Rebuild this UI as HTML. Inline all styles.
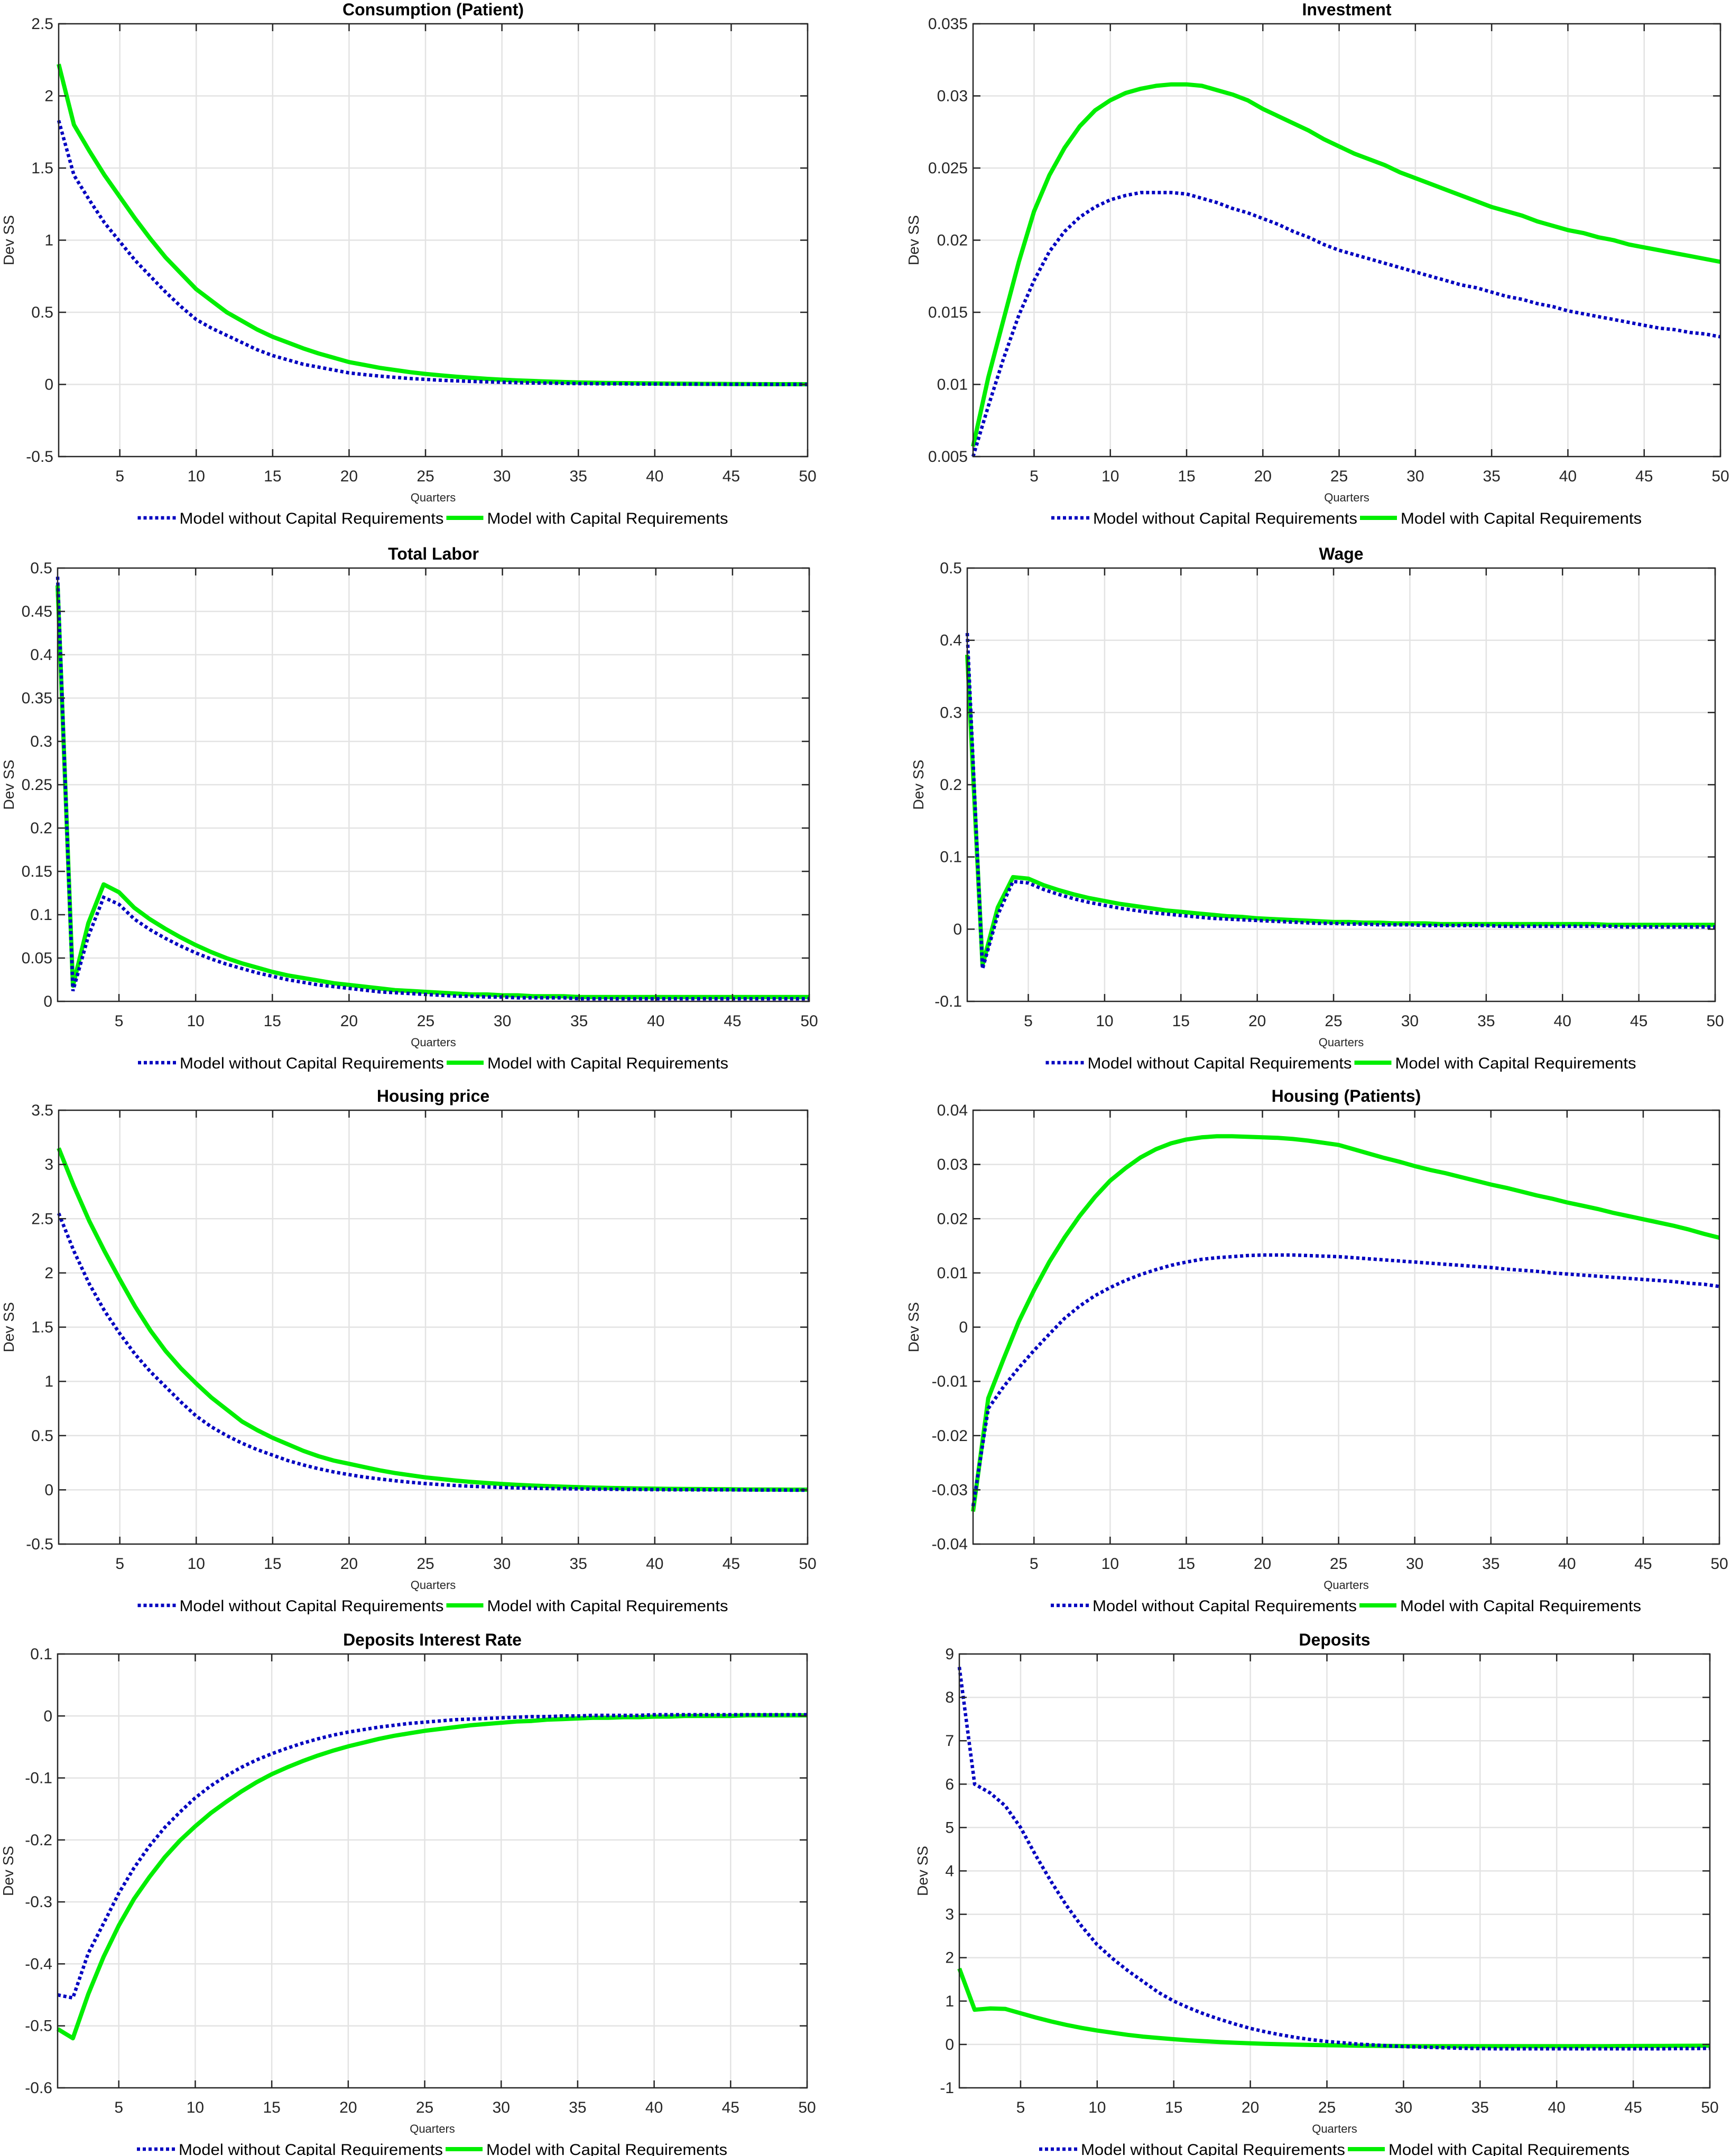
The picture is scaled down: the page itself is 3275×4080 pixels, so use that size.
<!DOCTYPE html>
<html><head><meta charset="utf-8"><style>
html,body{margin:0;padding:0;background:#fff;}
svg{display:block;font-family:"Liberation Sans",Arial,sans-serif;}
</style></head><body>
<svg id="fig" width="3275" height="4080" viewBox="0 0 3275 4080" xmlns="http://www.w3.org/2000/svg">
<rect width="3275" height="4080" fill="#fff"/>
</svg>
<script>
const quarters = Array.from({length:50},(_,i)=>i+1);
const xTicks = [5,10,15,20,25,30,35,40,45,50];

const titles = ["Consumption (Patient)","Investment","Total Labor","Wage","Housing price","Housing (Patients)","Deposits Interest Rate","Deposits"];

const consNoCR = [1.83,1.45,1.28,1.12,0.99,0.86,0.75,0.64,0.54,0.45, 0.39,0.34,0.29,0.24,0.2,0.17,0.14,0.12,0.1,0.08, 0.068,0.058,0.049,0.041,0.035,0.029,0.025,0.021,0.018,0.015, 0.012,0.01,0.009,0.007,0.006,0.005,0.004,0.004,0.003,0.003, 0.002,0.002,0.002,0.001,0.001,0.001,0.001,0,0,0];
const consCR = [2.22,1.8,1.62,1.45,1.3,1.15,1.01,0.88,0.77,0.66, 0.58,0.5,0.44,0.38,0.33,0.29,0.25,0.215,0.185,0.155, 0.135,0.115,0.1,0.085,0.073,0.063,0.054,0.046,0.039,0.033, 0.028,0.024,0.02,0.017,0.014,0.012,0.01,0.009,0.008,0.007, 0.006,0.005,0.004,0.004,0.003,0.003,0.002,0.002,0.002,0.001];

const invNoCR = [0.005,0.0085,0.0118,0.0148,0.0172,0.0192,0.0206,0.0216,0.0223,0.0228, 0.0231,0.0233,0.0233,0.0233,0.0232,0.0229,0.0226,0.0222,0.0219,0.0215, 0.0211,0.0206,0.0202,0.0197,0.0193,0.019,0.0187,0.0184,0.0181,0.0178, 0.0175,0.0172,0.0169,0.0167,0.0164,0.0161,0.0159,0.0156,0.0154,0.0151, 0.0149,0.0147,0.0145,0.0143,0.0141,0.0139,0.0138,0.0136,0.0135,0.0133];
const invCR = [0.0057,0.0105,0.0145,0.0185,0.022,0.0245,0.0264,0.0279,0.029,0.0297, 0.0302,0.0305,0.0307,0.0308,0.0308,0.0307,0.0304,0.0301,0.0297,0.0291, 0.0286,0.0281,0.0276,0.027,0.0265,0.026,0.0256,0.0252,0.0247,0.0243, 0.0239,0.0235,0.0231,0.0227,0.0223,0.022,0.0217,0.0213,0.021,0.0207, 0.0205,0.0202,0.02,0.0197,0.0195,0.0193,0.0191,0.0189,0.0187,0.0185];

const labNoCR = [0.49,0.012,0.075,0.12,0.112,0.095,0.083,0.073,0.064,0.056, 0.049,0.043,0.038,0.033,0.029,0.025,0.022,0.019,0.017,0.015, 0.013,0.011,0.01,0.009,0.008,0.007,0.006,0.006,0.005,0.005, 0.004,0.004,0.004,0.004,0.003,0.003,0.003,0.003,0.003,0.003, 0.003,0.003,0.003,0.003,0.003,0.003,0.003,0.003,0.003,0.003];
const labCR = [0.48,0.018,0.09,0.135,0.126,0.108,0.095,0.084,0.074,0.065, 0.057,0.05,0.044,0.039,0.034,0.03,0.027,0.024,0.021,0.019, 0.017,0.015,0.013,0.012,0.011,0.01,0.009,0.008,0.008,0.007, 0.007,0.006,0.006,0.006,0.005,0.005,0.005,0.005,0.005,0.005, 0.005,0.005,0.005,0.005,0.005,0.005,0.005,0.005,0.005,0.005];

const wageNoCR = [0.41,-0.055,0.02,0.066,0.064,0.055,0.048,0.042,0.037,0.033, 0.029,0.026,0.023,0.021,0.019,0.017,0.015,0.014,0.013,0.012, 0.011,0.01,0.009,0.008,0.008,0.007,0.007,0.006,0.006,0.006, 0.005,0.005,0.005,0.005,0.005,0.004,0.004,0.004,0.004,0.004, 0.004,0.004,0.004,0.003,0.003,0.003,0.003,0.003,0.003,0.003];
const wageCR = [0.38,-0.05,0.03,0.072,0.07,0.061,0.054,0.048,0.043,0.039, 0.035,0.032,0.029,0.026,0.024,0.022,0.02,0.018,0.017,0.015, 0.014,0.013,0.012,0.011,0.01,0.01,0.009,0.009,0.008,0.008, 0.008,0.007,0.007,0.007,0.007,0.007,0.007,0.007,0.007,0.007, 0.007,0.007,0.006,0.006,0.006,0.006,0.006,0.006,0.006,0.006];

const hpNoCR = [2.55,2.2,1.9,1.65,1.44,1.25,1.09,0.95,0.81,0.68, 0.58,0.5,0.43,0.37,0.32,0.27,0.23,0.195,0.165,0.14, 0.118,0.1,0.084,0.07,0.058,0.048,0.04,0.033,0.027,0.022, 0.018,0.015,0.012,0.01,0.008,0.006,0.005,0.004,0.003,0.002, 0.001,0.001,0,0,0,-0.001,-0.002,-0.002,-0.003,-0.003];
const hpCR = [3.15,2.8,2.48,2.2,1.94,1.69,1.47,1.28,1.12,0.98, 0.85,0.74,0.63,0.55,0.48,0.42,0.36,0.31,0.27,0.24, 0.21,0.18,0.155,0.135,0.115,0.1,0.085,0.073,0.063,0.054, 0.046,0.04,0.034,0.029,0.025,0.021,0.018,0.015,0.013,0.011, 0.009,0.008,0.007,0.006,0.005,0.004,0.003,0.003,0.002,0.002];

const hpatNoCR = [-0.033,-0.015,-0.011,-0.0075,-0.0043,-0.0013,0.0016,0.0039,0.0058,0.0073, 0.0086,0.0097,0.0106,0.0114,0.012,0.0125,0.0128,0.013,0.0132,0.0133, 0.0133,0.0133,0.0132,0.0131,0.013,0.0128,0.0126,0.0124,0.0122,0.012, 0.0118,0.0116,0.0114,0.0112,0.011,0.0107,0.0105,0.0103,0.01,0.0098, 0.0096,0.0094,0.0092,0.009,0.0088,0.0086,0.0084,0.0081,0.0079,0.0075];
const hpatCR = [-0.034,-0.0131,-0.0059,0.001,0.0068,0.012,0.0165,0.0205,0.024,0.027, 0.0293,0.0313,0.0328,0.0339,0.0346,0.035,0.0352,0.0352,0.0351,0.035, 0.0349,0.0347,0.0344,0.034,0.0336,0.0328,0.032,0.0312,0.0305,0.0297, 0.029,0.0284,0.0277,0.027,0.0263,0.0257,0.025,0.0243,0.0237,0.023, 0.0224,0.0218,0.0211,0.0205,0.0199,0.0193,0.0187,0.018,0.0172,0.0165];

const irNoCR = [-0.45,-0.455,-0.383,-0.335,-0.286,-0.245,-0.21,-0.18,-0.155,-0.132, -0.113,-0.097,-0.083,-0.071,-0.061,-0.052,-0.044,-0.037,-0.031,-0.026, -0.022,-0.018,-0.015,-0.012,-0.01,-0.008,-0.006,-0.005,-0.004,-0.003, -0.002,-0.001,-0.001,0,0,0.001,0.001,0.001,0.001,0.002, 0.002,0.002,0.002,0.002,0.002,0.002,0.002,0.002,0.002,0.002];
const irCR = [-0.505,-0.52,-0.449,-0.389,-0.338,-0.295,-0.26,-0.228,-0.201,-0.178, -0.157,-0.139,-0.122,-0.107,-0.094,-0.083,-0.073,-0.064,-0.056,-0.049, -0.043,-0.037,-0.032,-0.028,-0.024,-0.021,-0.018,-0.015,-0.013,-0.011, -0.009,-0.008,-0.006,-0.005,-0.004,-0.003,-0.003,-0.002,-0.002,-0.001, -0.001,0,0,0,0,0.001,0.001,0.001,0.001,0.001];

const depNoCR = [8.7,6.0,5.8,5.5,5.0,4.35,3.75,3.2,2.72,2.3, 1.98,1.7,1.45,1.2,1.0,0.84,0.7,0.58,0.47,0.37, 0.29,0.22,0.16,0.11,0.07,0.04,0.01,-0.01,-0.03,-0.05, -0.06,-0.07,-0.08,-0.09,-0.095,-0.1,-0.1,-0.1,-0.1,-0.1, -0.1,-0.1,-0.1,-0.1,-0.1,-0.1,-0.1,-0.095,-0.095,-0.09];
const depCR = [1.75,0.8,0.83,0.82,0.72,0.62,0.53,0.45,0.38,0.32, 0.27,0.22,0.18,0.15,0.12,0.095,0.075,0.055,0.04,0.025, 0.015,0.005,-0.005,-0.012,-0.018,-0.023,-0.028,-0.032,-0.035,-0.038, -0.04,-0.04,-0.04,-0.04,-0.04,-0.04,-0.04,-0.04,-0.04,-0.04, -0.04,-0.04,-0.04,-0.038,-0.036,-0.035,-0.034,-0.032,-0.03,-0.028];

const yTicks1 = ["-0.5","0","0.5","1","1.5","2","2.5"];
const yTicks2 = ["0.005","0.01","0.015","0.02","0.025","0.03","0.035"];
const yTicks3 = ["0","0.05","0.1","0.15","0.2","0.25","0.3","0.35","0.4","0.45","0.5"];
const yTicks4 = ["-0.1","0","0.1","0.2","0.3","0.4","0.5"];
const yTicks5 = ["-0.5","0","0.5","1","1.5","2","2.5","3","3.5"];
const yTicks6 = ["-0.04","-0.03","-0.02","-0.01","0","0.01","0.02","0.03","0.04"];
const yTicks7 = ["-0.6","-0.5","-0.4","-0.3","-0.2","-0.1","0","0.1"];
const yTicks8 = ["-1","0","1","2","3","4","5","6","7","8","9"];

const NS="http://www.w3.org/2000/svg";
const svg=document.getElementById('fig');
function mk(tag,attrs,parent){const e=document.createElementNS(NS,tag);for(const k in attrs)e.setAttribute(k,attrs[k]);(parent||svg).appendChild(e);return e;}

const layout=[
 {L:111,R:1528,T:45,B:864,dev:95},
 {L:1841,R:3255,T:45,B:864,dev:113},
 {L:109,R:1531,T:1075,B:1895,dev:93},
 {L:1830,R:3245,T:1075,B:1895,dev:93},
 {L:111,R:1528,T:2101,B:2922,dev:95},
 {L:1841,R:3253,T:2101,B:2922,dev:113},
 {L:109,R:1527,T:3130,B:3951,dev:94},
 {L:1815,R:3235,T:3130,B:3951,dev:70}
];
const seriesNo=[consNoCR,invNoCR,labNoCR,wageNoCR,hpNoCR,hpatNoCR,irNoCR,depNoCR];
const seriesCR=[consCR,invCR,labCR,wageCR,hpCR,hpatCR,irCR,depCR];
const yTickSets=[yTicks1,yTicks2,yTicks3,yTicks4,yTicks5,yTicks6,yTicks7,yTicks8];

layout.forEach((p,i)=>{
  const g=mk('g',{});
  
  
  const ticks=yTickSets[i].map(Number);
  const ymin=ticks[0], ymax=ticks[ticks.length-1];
  const xs=v=>p.L+(v-1)/(49)*(p.R-p.L);
  const ys=v=>p.B-(v-ymin)/(ymax-ymin)*(p.B-p.T);
  // grid
  const grid=mk('g',{stroke:'#e3e3e3','stroke-width':2.5},g);
  
  
  xTicks.forEach(t=>{ if(t<50) mk('line',{x1:xs(t),x2:xs(t),y1:p.T,y2:p.B},grid); });
  ticks.forEach((t,k)=>{ if(k>0&&k<ticks.length-1) mk('line',{x1:p.L,x2:p.R,y1:ys(t),y2:ys(t)},grid); });
  // series
  const ptsCR=quarters.map((q,k)=>xs(q).toFixed(1)+','+ys(seriesCR[i][k]).toFixed(1)).join(' ');
  const ptsNo=quarters.map((q,k)=>xs(q).toFixed(1)+','+ys(seriesNo[i][k]).toFixed(1)).join(' ');
  const lg=mk('polyline',{points:ptsCR,fill:'none',stroke:'#00ee00','stroke-width':8,'stroke-linejoin':'round'},g);
  
  
  const lb=mk('polyline',{points:ptsNo,fill:'none',stroke:'#0000c0','stroke-width':6.5,'stroke-dasharray':'6 5'},g);
  
  
  // box + ticks
  const ax=mk('g',{stroke:'#262626','stroke-width':2.5,fill:'none'},g);
  
  
  mk('rect',{x:p.L,y:p.T,width:p.R-p.L,height:p.B-p.T},ax);
  xTicks.forEach(t=>{ mk('line',{x1:xs(t),x2:xs(t),y1:p.B,y2:p.B-14},ax); mk('line',{x1:xs(t),x2:xs(t),y1:p.T,y2:p.T+14},ax); });
  ticks.forEach(t=>{ mk('line',{x1:p.L,x2:p.L+14,y1:ys(t),y2:ys(t)},ax); mk('line',{x1:p.R,x2:p.R-14,y1:ys(t),y2:ys(t)},ax); });
  // labels
  xTicks.forEach(t=>{ const e=mk('text',{x:xs(t),y:p.B+47,'font-size':30,'text-anchor':'middle',fill:'#262626'},g); e.textContent=String(t);
    
     });
  yTickSets[i].forEach((s,k)=>{ const e=mk('text',{x:p.L-10,y:ys(ticks[k])+10,'font-size':30,'text-anchor':'end',fill:'#262626'},g); e.textContent=s;
    
     });
  const cx=(p.L+p.R)/2;
  const ti=mk('text',{x:cx,y:p.T-16,'font-size':32,'font-weight':'bold','text-anchor':'middle',fill:'#000'},g); ti.textContent=titles[i];
  
  
  const xl=mk('text',{x:cx,y:p.B+85,'font-size':22,'text-anchor':'middle',fill:'#262626'},g); xl.textContent='Quarters';
  
  
  const yc=(p.T+p.B)/2, yx=p.L-p.dev;
  const yl=mk('text',{x:yx,y:yc,'font-size':28,'text-anchor':'middle',fill:'#262626',transform:`rotate(-90 ${yx} ${yc})`,dy:10},g); yl.textContent='Dev SS';
  
  
  // legend
  const leg=mk('g',{},g);
  
  
  const ly=p.B+116;
  mk('line',{x1:cx-559,x2:cx-487,y1:ly,y2:ly,stroke:'#0000c0','stroke-width':6.5,'stroke-dasharray':'6 5'},leg);
  const t1=mk('text',{x:cx-480,y:ly+11,'font-size':30,fill:'#000',textLength:500,lengthAdjust:'spacingAndGlyphs'},leg); t1.textContent='Model without Capital Requirements';
  
  
  mk('line',{x1:cx+25,x2:cx+95,y1:ly,y2:ly,stroke:'#00ee00','stroke-width':8},leg);
  const t2=mk('text',{x:cx+102,y:ly+11,'font-size':30,fill:'#000',textLength:456,lengthAdjust:'spacingAndGlyphs'},leg); t2.textContent='Model with Capital Requirements';
  
  
});
</script>
</body></html>
